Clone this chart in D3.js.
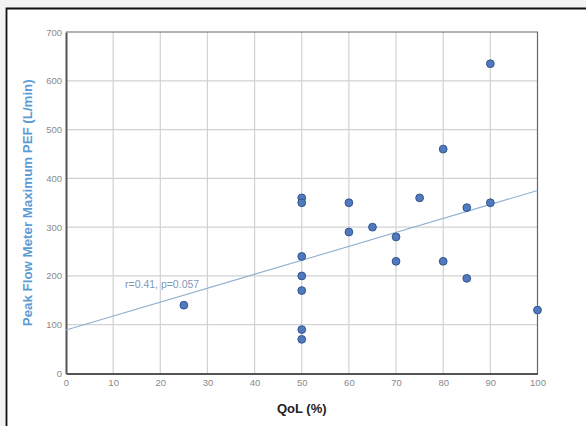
<!DOCTYPE html>
<html>
<head>
<meta charset="utf-8">
<script src="https://cdn.jsdelivr.net/npm/d3@7"></script>
<style>
  html, body { margin: 0; padding: 0; background: #f3f3f3; }
  svg { display: block; }
</style>
</head>
<body>
<svg id="chart" width="586" height="426"></svg>
<script>
// QoL score (%) for each participant
const qol = [25, 50, 50, 50, 50, 50, 50, 50, 60, 60, 65, 70, 70, 75, 80, 80, 85, 85, 90, 90, 100];
// Peak flow meter maximum PEF (L/min) for the same participants
const pef = [140, 360, 350, 240, 200, 170, 90, 70, 350, 290, 300, 280, 230, 360, 460, 230, 340, 195, 635, 350, 130];
// Fitted line end points (QoL, PEF)
const fitX = [0, 100];
const fitY = [89, 375];
const xTicks = [0, 10, 20, 30, 40, 50, 60, 70, 80, 90, 100];
const yTicks = [0, 100, 200, 300, 400, 500, 600, 700];
const statLabel = "r=0.41, p=0.057";

const svg = d3.select("#chart");

// white panel with dark frame on the left and top
svg.append("rect").attr("x", 6).attr("y", 8).attr("width", 600).attr("height", 430)
  .attr("fill", "#ffffff");
svg.append("path").attr("d", "M6.5,440 V8.5 H590")
  .attr("fill", "none").attr("stroke", "#111").attr("stroke-width", 1.8);

const pL = 66, pR = 537.5, pT = 32, pB = 373.5;
const x = d3.scaleLinear().domain([0, 100]).range([pL, pR]);
const y = d3.scaleLinear().domain([0, 700]).range([pB, pT]);

// grid
const grid = svg.append("g").attr("stroke", "#d2d2d2").attr("stroke-width", 1.2);
grid.selectAll("line.v").data(xTicks.slice(1, -1)).join("line")
  .attr("x1", d => x(d)).attr("x2", d => x(d)).attr("y1", pT).attr("y2", pB);
grid.selectAll("line.h").data(yTicks.slice(1, -1)).join("line")
  .attr("x1", pL).attr("x2", pR).attr("y1", d => y(d)).attr("y2", d => y(d));

// plot border: lighter top/right, heavier axes
svg.append("path").attr("d", `M${pL},${pT} H${pR} V${pB}`)
  .attr("fill", "none").attr("stroke", "#666").attr("stroke-width", 1.2);

// axes
const xAxis = svg.append("g").attr("transform", `translate(0,${pB})`)
  .call(d3.axisBottom(x).tickValues(xTicks).tickSize(0).tickPadding(6));
const yAxis = svg.append("g").attr("transform", `translate(${pL},0)`)
  .call(d3.axisLeft(y).tickValues(yTicks).tickSize(0).tickPadding(4));
[xAxis, yAxis].forEach(a => {
  a.select(".domain").attr("stroke", "#555").attr("stroke-width", 2);
  a.selectAll("text").attr("fill", "#8a8a8a")
    .style("font-family", "'Liberation Sans', Arial, sans-serif").style("font-size", "9.5px");
});

// fitted line
svg.append("line")
  .attr("x1", x(fitX[0])).attr("y1", y(fitY[0]))
  .attr("x2", x(fitX[1])).attr("y2", y(fitY[1]))
  .attr("stroke", "#8eb0cf").attr("stroke-width", 1.1);

// statistics label
svg.append("text").attr("x", 125).attr("y", 287.5)
  .attr("fill", "#7f98b3")
  .style("font-family", "'Liberation Sans', Arial, sans-serif").style("font-size", "10.5px")
  .text(statLabel);

// points
svg.append("g").selectAll("circle").data(qol.map((q, i) => [q, pef[i]])).join("circle")
  .attr("cx", d => x(d[0])).attr("cy", d => y(d[1])).attr("r", 3.9)
  .attr("fill", "#5179bd").attr("stroke", "#34558f").attr("stroke-width", 1);

// axis titles
svg.append("text").attr("x", (pL + pR) / 2).attr("y", 412.5)
  .attr("text-anchor", "middle").attr("fill", "#222")
  .style("font-family", "'Liberation Sans', Arial, sans-serif").style("font-size", "13px")
  .style("font-weight", "bold").text("QoL (%)");
svg.append("text")
  .attr("transform", `translate(31.5,${(pT + pB) / 2}) rotate(-90)`)
  .attr("text-anchor", "middle").attr("fill", "#5b9bd5")
  .style("font-family", "'Liberation Sans', Arial, sans-serif").style("font-size", "13.3px")
  .style("font-weight", "bold").text("Peak Flow Meter Maximum PEF (L/min)");
</script>
</body>
</html>
